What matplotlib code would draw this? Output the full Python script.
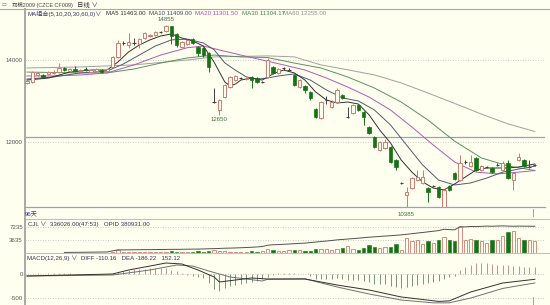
import matplotlib
matplotlib.use('Agg')
import matplotlib.pyplot as plt
import numpy as np

plt.rcParams['font.family'] = ['Liberation Sans', 'Noto Sans CJK SC', 'DejaVu Sans']

# ---------------- data ----------------
opens = [13440, 13465, 13635, 13635, 13660, 13685, 13705, 13805, 13730, 13780,
         13730, 13780, 13705, 13730, 13755, 13730, 13830, 14075, 14415, 14365,
         14415, 14390, 14535, 14585, 14610, 14685, 14710, 14830, 14635, 14315,
         14390, 14510, 14315, 14295, 14170, 12975, 12780, 13095, 13340, 13510,
         13560, 13535, 13585, 13560, 13465, 13585, 13830, 13685, 13805, 13755,
         13635, 13340, 13365, 13220, 12805, 12585, 13025, 12855, 12975, 13145,
         12610, 12705, 12900, 12730, 12365, 12120, 11805, 11855, 11875, 11560,
         11000, 10705, 10875, 11070, 11000, 10875, 10925, 10900, 10415, 10925,
         11245, 11070, 11510, 11415, 11610, 11315, 11390, 11365, 11440, 11315,
         11485, 11070, 11560, 11560, 11390, 11440]
highs = [13510, 13730, 13705, 13660, 13730, 13755, 13925, 13830, 13805, 13855,
         13780, 13830, 13780, 13805, 13780, 13805, 14100, 14490, 14465, 14660,
         14535, 14535, 14685, 14635, 14710, 14710, 14855, 14840, 14660, 14465,
         14510, 14535, 14340, 14315, 14195, 13315, 13050, 13415, 13610, 13635,
         13585, 13585, 13610, 13585, 13490, 14050, 13855, 13805, 13830, 13805,
         13660, 13535, 13390, 13245, 12830, 13000, 13120, 13025, 13315, 13170,
         12855, 12925, 12925, 12755, 12390, 12145, 12025, 12070, 11900, 11585,
         11025, 10900, 11145, 11315, 11315, 10900, 10950, 10925, 10850, 10950,
         11270, 11680, 11560, 11680, 11635, 11440, 11415, 11390, 11485, 11535,
         11560, 11270, 11730, 11585, 11560, 11460]
lows = [13415, 13440, 13610, 13560, 13635, 13660, 13685, 13730, 13705, 13705,
        13705, 13730, 13685, 13705, 13685, 13705, 13805, 14050, 14365, 14295,
        14365, 14295, 14510, 14560, 14585, 14660, 14685, 14390, 14315, 14295,
        14365, 14390, 14100, 14075, 13705, 12950, 12650, 13075, 13315, 13490,
        13535, 13510, 13315, 13440, 13440, 13560, 13660, 13660, 13755, 13730,
        13365, 13315, 13195, 13025, 12585, 12560, 12925, 12830, 12950, 13050,
        12585, 12680, 12755, 12415, 12195, 11855, 11780, 11830, 11485, 11315,
        10975, 10385, 10850, 11050, 10975, 10535, 10900, 10635, 10390, 10805,
        11070, 11050, 11460, 11390, 11290, 11290, 11365, 11245, 11415, 11290,
        11095, 10830, 11535, 11390, 11365, 11415]
closes = [13490, 13705, 13685, 13585, 13705, 13705, 13805, 13755, 13780, 13730,
          13755, 13755, 13755, 13780, 13705, 13780, 14075, 14415, 14415, 14440,
          14415, 14510, 14660, 14610, 14685, 14685, 14830, 14585, 14365, 14440,
          14490, 14415, 14170, 14120, 13830, 12975, 13025, 13390, 13585, 13610,
          13560, 13560, 13510, 13465, 13465, 14000, 13685, 13780, 13805, 13755,
          13390, 13510, 13270, 13075, 12610, 12975, 13025, 12975, 13270, 13075,
          12610, 12900, 12780, 12610, 12220, 11875, 12000, 12000, 11510, 11390,
          11000, 10780, 11120, 11145, 11145, 10780, 10925, 10655, 10830, 10830,
          11095, 11485, 11510, 11510, 11315, 11415, 11390, 11270, 11440, 11485,
          11120, 11245, 11635, 11415, 11390, 11440]

# moving averages, sampled along the lines
ma5_idx = [0, 4, 8, 12, 15, 17, 19, 21, 23, 25, 27, 29, 31, 33, 35, 36, 37, 38, 39, 40,
           42, 44, 46, 48, 50, 52, 54, 56, 58, 60, 62, 64, 66, 68, 70, 72, 74, 76, 78, 80,
           82, 84, 86, 88, 90, 92, 95]
ma5_val = [13510, 13560, 13705, 13755, 13755, 13950, 14195, 14365, 14490, 14585, 14635, 14535,
           14465, 14340, 13950, 13705, 13465, 13365, 13415, 13510, 13560, 13510, 13660, 13755,
           13685, 13510, 13220, 13025, 12950, 12975, 12925, 12660, 12290, 11975, 11560, 11265,
           11025, 10875, 10830, 10975, 11145, 11315, 11365, 11365, 11365, 11390, 11463]
ma10_idx = [0, 5, 10, 15, 18, 21, 24, 27, 30, 33, 35, 37, 39, 41, 43, 45, 47, 50, 53, 56,
            59, 62, 65, 68, 71, 74, 77, 80, 83, 86, 89, 92, 95]
ma10_val = [13535, 13585, 13685, 13730, 13900, 14120, 14340, 14490, 14510, 14415, 14250, 13930,
            13750, 13590, 13530, 13560, 13610, 13660, 13510, 13270, 13075, 13000, 12780, 12415,
            11925, 11440, 11070, 10950, 11000, 11120, 11265, 11340, 11409]
ma20_idx = [0, 5, 10, 15, 20, 25, 30, 33, 36, 40, 44, 48, 52, 56, 60, 64, 68, 72, 76, 80,
            84, 88, 92, 95]
ma20_val = [13610, 13610, 13635, 13685, 13880, 14120, 14300, 14340, 14245, 14120, 14000, 13880,
            13755, 13560, 13340, 13095, 12780, 12365, 11925, 11510, 11265, 11220, 11265, 11301]
ma30_idx = [0, 10, 15, 20, 25, 30, 35, 40, 45, 50, 55, 60, 65, 70, 75, 80, 85, 90, 95]
ma30_val = [13705, 13685, 13685, 13780, 13925, 14050, 14120, 14075, 14060, 13925, 13805, 13585,
            13315, 12975, 12535, 12020, 11610, 11415, 11304]
ma60_idx = [0, 10, 20, 30, 35, 45, 50, 55, 60, 65, 70, 75, 80, 85, 90, 95]
ma60_val = [13805, 13830, 13880, 14000, 14075, 14100, 14075, 13880, 13760, 13635, 13440, 13195,
            12940, 12680, 12440, 12255]

volumes = [0, 0, 0, 0, 0, 0, 0, 5000, 6000, 5000,
           6000, 5000, 7000, 6000, 5000, 8000, 40000, 75000, 30000, 35000,
           25000, 30000, 35000, 25000, 30000, 25000, 40000, 45000, 35000, 30000,
           25000, 30000, 45000, 40000, 55000, 70000, 60000, 50000, 40000, 35000,
           30000, 35000, 45000, 40000, 50000, 110000, 92000, 46000, 65000, 74000,
           92000, 74000, 55000, 65000, 120000, 120000, 120000, 74000, 120000, 148000,
           185000, 111000, 92000, 138000, 231000, 166000, 138000, 166000, 166000, 249000,
           74000, 415000, 323000, 369000, 249000, 323000, 277000, 369000, 443000, 351000,
           323000, 738000, 369000, 388000, 369000, 323000, 277000, 351000, 351000, 480000,
           600000, 628000, 415000, 351000, 351000, 336026]
oi_start = 7
open_interest = [8000, 9000, 10000, 10000, 11000, 12000, 13000, 14000, 15000, 30000,
                 45000, 44000, 45000, 46000, 47000, 48000, 48000, 49000, 50000, 51000,
                 52000, 52000, 53000, 54000, 55000, 56000, 58000, 60000, 62000, 65000,
                 68000, 70000, 72000, 75000, 78000, 82000, 86000, 92000, 110000, 117000,
                 120000, 124000, 128000, 132000, 137000, 141000, 148000, 156000, 163000, 170000,
                 178000, 187000, 193000, 199000, 205000, 211000, 218000, 225000, 230000, 236000,
                 241000, 246000, 252000, 258000, 266000, 275000, 284000, 292000, 301000, 310000,
                 319000, 338000, 333000, 330000, 375000, 372000, 378000, 376000, 380000, 383000,
                 381000, 384000, 386000, 383000, 381000, 383000, 382000, 381000, 380931]

macd_hist = [8, 10, 12, 10, 12, 14, 15, 12, 12, 10, 10, 10, 8, 8, 6, 10,
             21, 42, 62, 80, 95, 105, 110, 120, 120, 120, 115, 90, 62, 31,
             -21, -42, -62, -83, -187, -312, -354, -291, -250, -229, -208, -187, -166, -146,
             -104, -62, -21, 21, 31, 31, 21, 10, -10, -42, -104, -104, -104, -104, -83, -104,
             -125, -125, -125, -146, -166, -208, -208, -208, -250, -270, -291, -270, -250,
             -229, -208, -187, -166, -146, -104, -62, -42, 83, 146, 187, 229, 229, 229, 208,
             187, 187, 187, 166, 166, 146, 146, 152]
diff_idx = [0, 16, 19, 23, 26, 29, 32, 35, 36, 39, 42, 45, 52, 58, 64, 70, 77, 79, 83, 89, 95]
diff_val = [-42, 0, 83, 166, 229, 208, 83, -62, -166, -125, -83, -104, -104, -229, -333, -478,
            -570, -560, -374, -187, -110.16]
dea_idx = [0, 16, 23, 28, 31, 34, 38, 44, 45, 52, 58, 64, 70, 76, 79, 83, 89, 95]
dea_val = [-42, -21, 83, 187, 166, 62, -62, -146, -110, -100, -270, -416, -541, -600, -600,
           -500, -300, -186.22]

# ---------------- styling ----------------
W, H = 550, 305
BG = '#fffff0'
UP = '#cd7b72'
DN = '#157215'
DOJI = '#404040'
GRID = '#b8b8b8'
TXT = '#333355'
FS = 4.4

fig = plt.figure(figsize=(W / 100, H / 100), dpi=100, facecolor=BG)


def box(x0, y0, x1, y1):
    return [x0 / W, 1 - y1 / H, (x1 - x0) / W, (y1 - y0) / H]


def ftext(x, y, s, **kw):
    kw.setdefault('fontsize', FS)
    kw.setdefault('color', TXT)
    fig.text(x / W, 1 - y / H, s, va='center', ha=kw.pop('ha', 'left'), **kw)


def fline(xs, ys, **kw):
    fig.add_artist(plt.Line2D([x / W for x in xs], [1 - y / H for y in ys], **kw))


ax = fig.add_axes(box(25, 9, 545, 207))
axv = fig.add_axes(box(25, 219, 545, 253))
axm = fig.add_axes(box(25, 253, 545, 305))

n = len(closes)
idx = np.arange(n)
o, h, l, c = (np.array(v, dtype=float) for v in (opens, highs, lows, closes))
up = c > o
dn = c < o
fl = c == o
xlim = (-0.37, 96.9)

for a in (ax, axv, axm):
    a.set_facecolor(BG)
    a.set_xlim(*xlim)
    a.set_xticks([])
    for s in ('top', 'right', 'bottom'):
        a.spines[s].set_visible(False)
    a.spines['left'].set_color('#a8a8a8')
    a.spines['left'].set_linewidth(1.4)
    a.tick_params(axis='y', length=0, labelsize=FS, labelcolor='#555555', pad=1.5)

# ---- main price panel ----
ax.set_ylim(10413, 15244)
ax.axhline(14000, color=GRID, ls=(0, (1, 2)), lw=0.6, zorder=0)
ax.axhline(12000, color=GRID, ls=(0, (1, 2)), lw=0.6, zorder=0)
ax.axhline(12120, color='#8ea6c6', lw=0.9, zorder=0)
ax.spines['bottom'].set_visible(True)
ax.spines['bottom'].set_color('#8ea6c6')
ax.spines['bottom'].set_linewidth(0.9)
ax.set_yticks([12000, 14000])
ax.set_yticklabels(['12000', '14000'])

ax.plot(ma60_idx, ma60_val, color='#a0a0a0', lw=0.7, zorder=1)
ax.plot(ma30_idx, ma30_val, color='#5f8f5f', lw=0.7, zorder=1)
ax.plot(ma20_idx, ma20_val, color='#b05ab0', lw=0.7, zorder=1)
ax.plot(ma10_idx, ma10_val, color='#505a70', lw=0.7, zorder=1)
ax.plot(ma5_idx, ma5_val, color='#303030', lw=0.7, zorder=1)

bw = 0.62
ax.vlines(idx[up], l[up], h[up], color=UP, lw=0.7, zorder=2)
ax.vlines(idx[dn], l[dn], h[dn], color=DN, lw=0.7, zorder=2)
ax.vlines(idx[fl], l[fl], h[fl], color=DOJI, lw=0.7, zorder=2)
ax.bar(idx[up], (c - o)[up], bottom=o[up], width=bw, facecolor=BG, edgecolor=UP,
       linewidth=0.7, zorder=3)
ax.bar(idx[dn], (o - c)[dn], bottom=c[dn], width=bw, facecolor=DN, edgecolor=DN,
       linewidth=0.5, zorder=3)
ax.hlines(c[fl], idx[fl] - bw / 2, idx[fl] + bw / 2, color=DOJI, lw=0.8, zorder=3)

ax.text(int(np.argmax(h)), h.max() + 125, f'{int(h.max())}', ha='center', va='center',
        fontsize=FS, color='#3f6f3f')
ax.text(36, 12650 - 95, '12650', ha='center', va='center', fontsize=FS, color='#3f6f3f')
ax.text(int(np.argmin(l)), l.min() - 145, f'{int(l.min())}', ha='center', va='center',
        fontsize=FS, color='#3f6f3f', clip_on=False)

# ---- volume panel ----
axv.set_ylim(0, 950000)
axv.axhline(363000, color=GRID, ls=(0, (1, 2)), lw=0.6, zorder=0)
axv.axhline(723000, color=GRID, ls=(0, (1, 2)), lw=0.6, zorder=0)
axv.set_yticks([363000, 723000])
axv.set_yticklabels(['3635', '7235'])
v = np.array(volumes, dtype=float)
vup = c >= o
axv.bar(idx[vup], v[vup], width=bw, facecolor=BG, edgecolor=UP, linewidth=0.6, zorder=2)
axv.bar(idx[~vup], v[~vup], width=bw, facecolor=DN, edgecolor=DN, linewidth=0.4, zorder=2)
axo = axv.twinx()
axo.set_ylim(0, 484000)
axo.axis('off')
axo.plot(np.arange(oi_start, oi_start + len(open_interest)), open_interest,
         color='#505050', lw=0.7)

# ---- MACD panel ----
axm.set_ylim(-645, 437)
axm.axhline(0, color=GRID, ls=(0, (1, 2)), lw=0.6, zorder=0)
axm.axhline(-500, color=GRID, ls=(0, (1, 2)), lw=0.6, zorder=0)
axm.set_yticks([-500, 0])
axm.set_yticklabels(['-500', '0'])
mh = np.array(macd_hist, dtype=float)
axm.vlines(idx[mh >= 0], 0, mh[mh >= 0], color='#c8908a', lw=0.7)
axm.vlines(idx[mh < 0], mh[mh < 0], 0, color='#7a947a', lw=0.7)
axm.plot(dea_idx, dea_val, color='#707070', lw=0.7)
axm.plot(diff_idx, diff_val, color='#303030', lw=0.7)

# ---- frame lines ----
fline([0, 550], [9, 9], color='#a8a8a8', lw=0.8)
fline([25, 550], [219, 219], color='#c0c0c0', lw=0.8)
fline([25, 550], [253, 253], color='#c0c0c0', lw=0.8)
fline([25, 25], [207, 219], color='#a8a8a8', lw=1.4)
# cursor marks at the last bar
fline([533, 533], [209, 216], color='#909090', lw=0.6)
fline([533, 533], [297, 305], color='#909090', lw=0.6)

# ---- texts ----
ftext(2, 4.5, '▭', fontsize=3.5, color='#707070')
ftext(12, 4.5, '郑棉2009 (CZCE CF009)', fontsize=3.9, color='#404040')
ftext(77, 4.5, '日线 ∨', fontsize=4.6, color='#303030')

ftext(28, 13.5, 'MA组合(5,10,20,30,60,0)∨', color='#333366')
ftext(106, 13.5, 'MA5 11463.00', color='#303030')
ftext(149, 13.5, 'MA10 11409.00', color='#404a60')
ftext(195, 13.5, 'MA20 11301.50', color='#b050b0')
ftext(242, 13.5, 'MA30 11304.17', color='#4f7f4f')
ftext(283, 13.5, 'MA60 12255.00', color='#909090')

ftext(25, 214.5, '96天', color='#333388')
ftext(28, 224, 'CJL ∨  336026.00(47:53)   OPID 380931.00', color='#333355')
ftext(27, 258, 'MACD(12,26,9) ∨  DIFF -110.16   DEA -186.22   152.12', color='#333355')

fig.savefig('out.png', dpi=100, facecolor=BG)
